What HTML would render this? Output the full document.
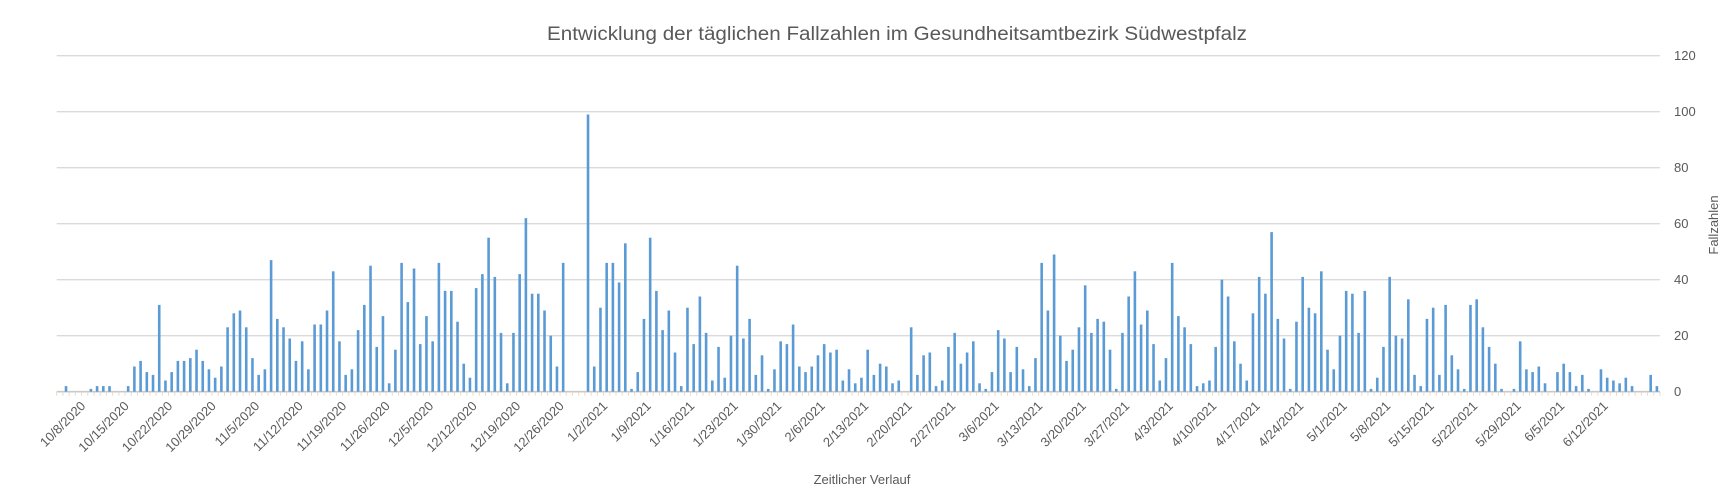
<!DOCTYPE html>
<html><head><meta charset="utf-8"><style>
html,body{margin:0;padding:0;background:#fff;}
svg{display:block;font-family:"Liberation Sans",sans-serif;}
</style></head><body>
<svg id="chart" width="1736" height="502" viewBox="0 0 1736 502">
<text x="897" y="40" text-anchor="middle" font-size="19" fill="#595959" textLength="700" lengthAdjust="spacingAndGlyphs">Entwicklung der täglichen Fallzahlen im Gesundheitsamtbezirk Südwestpfalz</text>
<g id="grid"></g>
<g id="bars"></g>
<g id="yticks"></g>
<g id="xticks"></g>
<text transform="translate(1718,225) rotate(-90)" text-anchor="middle" font-size="13" fill="#595959">Fallzahlen</text>
<text x="862" y="484" text-anchor="middle" font-size="13" fill="#595959">Zeitlicher Verlauf</text>
</svg>
<script>
const values = [0,2,0,0,0,1,2,2,2,0,0,2,9,11,7,6,31,4,7,11,11,12,15,11,8,5,9,23,28,29,23,12,
6,8,47,26,23,19,11,18,8,24,24,29,43,18,6,8,22,31,45,16,27,3,15,46,32,44,17,27,18,46,36,36,25,
10,5,37,42,55,41,21,3,21,42,62,35,35,29,20,9,46,0,0,0,99,9,30,46,46,39,53,1,7,26,55,36,22,
29,14,2,30,17,34,21,4,16,5,20,45,19,26,6,13,1,8,18,17,24,9,7,9,13,17,14,15,4,8,3,5,15,
6,10,9,3,4,0,23,6,13,14,2,4,16,21,10,14,18,3,1,7,22,19,7,16,8,2,12,46,29,49,20,11,15,
23,38,21,26,25,15,1,21,34,43,24,29,17,4,12,46,27,23,17,2,3,4,16,40,34,18,10,4,28,41,35,57,26,
19,1,25,41,30,28,43,15,8,20,36,35,21,36,1,5,16,41,20,19,33,6,2,26,30,6,31,13,8,1,31,33,23,
16,10,1,0,1,18,8,7,9,3,0,7,10,7,2,6,1,0,8,5,4,3,5,2,0,0,6,2];
const tickLabels = ["10/8/2020","10/15/2020","10/22/2020","10/29/2020","11/5/2020","11/12/2020","11/19/2020","11/26/2020","12/5/2020","12/12/2020","12/19/2020","12/26/2020","1/2/2021","1/9/2021","1/16/2021","1/23/2021","1/30/2021","2/6/2021","2/13/2021","2/20/2021","2/27/2021","3/6/2021","3/13/2021","3/20/2021","3/27/2021","4/3/2021","4/10/2021","4/17/2021","4/24/2021","5/1/2021","5/8/2021","5/15/2021","5/22/2021","5/29/2021","6/5/2021","6/12/2021"];
const yTicks = [0,20,40,60,80,100,120];
const tickStart = 2, tickStep = 7;

const NS = "http://www.w3.org/2000/svg";
const X0 = 56.7, X1 = 1660, Y0 = 391.7, YTOP = 55.7, YMAX = 120;
const slot = (X1 - X0) / values.length;
const xc = i => X0 + (i + 0.5) * slot;
const y = v => Y0 - (v / YMAX) * (Y0 - YTOP);
function mk(tag, attrs, parent) { const e = document.createElementNS(NS, tag); for (const k in attrs) e.setAttribute(k, attrs[k]); parent.appendChild(e); return e; }

const grid = document.getElementById('grid');
yTicks.forEach(t => {
  const l = mk('line', {x1: X0, x2: X1, y1: y(t), y2: y(t), stroke: t === 0 ? '#c8c8c8' : '#dadada', 'stroke-width': t === 0 ? 1.6 : 1.3}, grid);
  
  
  const tx = mk('text', {x: 1674, y: y(t) + 4.5, 'font-size': 13, fill: '#595959'}, document.getElementById('yticks'));
  tx.textContent = t;
  
  
});
for (let i = 0; i <= values.length; i++) {
  const tk = mk('line', {x1: X0 + i * slot, x2: X0 + i * slot, y1: Y0, y2: Y0 + 4, stroke: '#e6d9c8', 'stroke-width': 1}, grid);
  
  
}
const bars = document.getElementById('bars');
values.forEach((v, i) => {
  if (v <= 0) return;
  const r = mk('rect', {x: xc(i) - 1.3, y: y(v), width: 2.6, height: Y0 - y(v), fill: '#5b9bd5'}, bars);
  
  
});
const xt = document.getElementById('xticks');
tickLabels.forEach((lab, k) => {
  const i = tickStart + k * tickStep;
  const px = xc(i) + 14, py = Y0 + 15;
  const t = mk('text', {x: 0, y: 0, transform: `translate(${px},${py}) rotate(-45)`, 'text-anchor': 'end', 'font-size': 13, fill: '#595959'}, xt);
  t.textContent = lab;
  
  
});
</script>
</body></html>
